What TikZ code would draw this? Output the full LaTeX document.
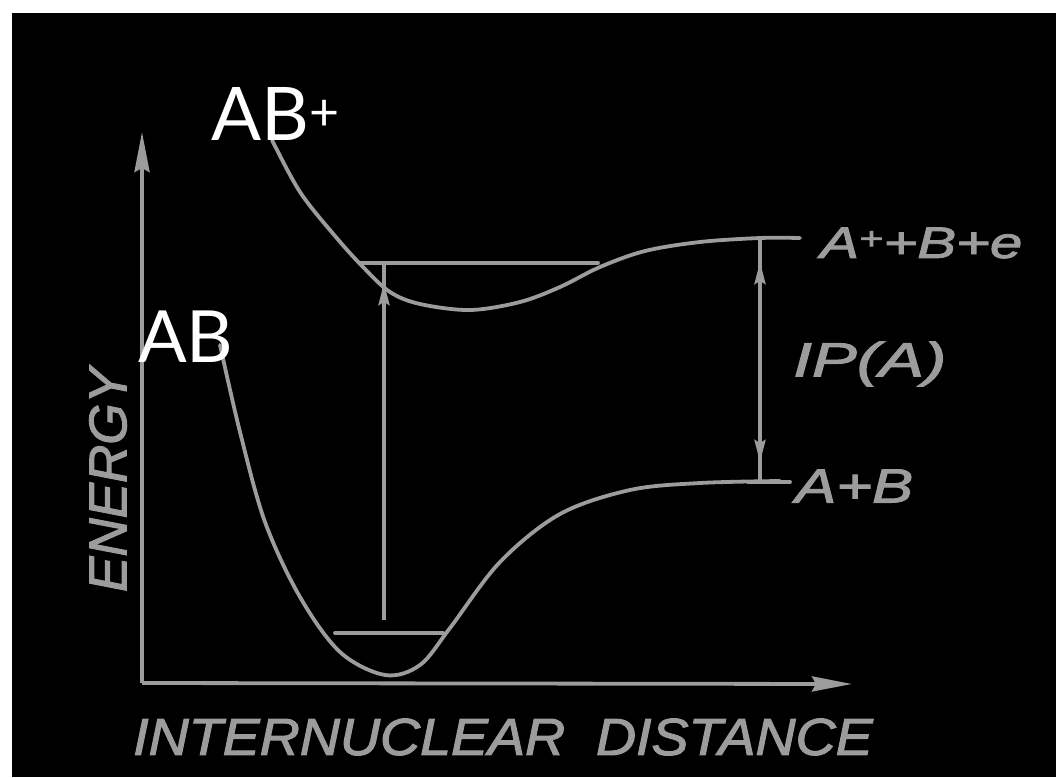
\documentclass[tikz,border=0pt]{standalone}
\usepackage{fontspec}
\setmainfont{Liberation Sans}
\newfontfamily\lett[FakeBold=2]{Liberation Sans}
\newfontfamily\labfont{Lato}
\usetikzlibrary{arrows.meta}
\definecolor{ln}{HTML}{9C9C9C}
\tikzset{
  curve/.style={draw=ln, line width=3.8pt, line cap=round},
  gtext/.style={text=ln, inner sep=0pt},
  wtext/.style={text=white, inner sep=0pt},
  bigtip/.style={-{Stealth[length=40pt,width=15pt,inset=4pt]}},
  midtip/.style={-{Stealth[length=22pt,width=11pt,inset=3pt]}},
}
\begin{document}
\begin{tikzpicture}[x=1pt,y=-1pt]
\useasboundingbox (0,0) rectangle (1056,777);
\fill[white] (0,0) rectangle (1056,777);
\fill[black] (12,13) rectangle (1056,777);
% axes
\coordinate (O) at (142,683);
\coordinate (ytop) at (142,132);
\coordinate (xend) at (852,684);
\draw[curve, line cap=butt, bigtip] (O) -- (ytop);
\draw[curve, line cap=butt, bigtip] (O) -- (xend);
% lower curve AB
\draw[curve] plot[smooth, tension=0.55] coordinates {(220,345) (240,432) (265,522) (300,597) (340,652) (385,675) (420,665) (450,628) (500,562) (560,514) (630,490) (700,483) (780,481)};
% upper curve AB+
\draw[curve] plot[smooth, tension=0.55] coordinates {(272,140) (300,192) (335,236) (363,267) (390,292) (420,304) (470,310) (520,302) (560,287) (600,267) (645,251) (700,242) (760,238) (800,238)};
% vibrational levels
\coordinate (l1) at (335,633);
\coordinate (l2) at (443,633);
\draw[curve] (l1) -- (l2);
\coordinate (u1) at (360,263);
\coordinate (u2) at (598,263);
\draw[curve] (u1) -- (u2);
% excitation arrow
\coordinate (eb) at (384,620);
\coordinate (et) at (384,263);
\coordinate (eh) at (384,283);
\draw[curve, line cap=butt] (eb) -- (et);
\draw[curve, line cap=butt, midtip] (eb) -- (eh);
% dissociation limits
\coordinate (r1) at (790,482);
\coordinate (r0) at (748,482);
\draw[curve] (r0) -- (r1);
% IP double arrow
\coordinate (ia) at (760,239);
\coordinate (ib) at (760,481);
\coordinate (iat) at (760,262);
\coordinate (ibt) at (760,462);
\coordinate (im) at (760,360);
\draw[curve, line cap=butt] (ia) -- (ib);
\draw[curve, line cap=butt, midtip] (im) -- (iat);
\draw[curve, line cap=butt, midtip] (im) -- (ibt);
% labels
\node[gtext, anchor=west, xscale=1.32, font=\lett\itshape\fontsize{44}{44}\selectfont] (lim1) at (820,243) {A\textsuperscript{+}+B+e};
\node[gtext, anchor=west, xscale=1.4, font=\lett\itshape\fontsize{48}{48}\selectfont] (ip) at (793,364) {IP(A)};
\node[gtext, anchor=west, xscale=1.28, font=\lett\itshape\fontsize{48}{48}\selectfont] (lim0) at (795,486) {A+B};
\node[gtext, anchor=west, xscale=1.068, font=\lett\itshape\fontsize{52}{52}\selectfont] (xl) at (133,737) {INTERNUCLEAR\ \ DISTANCE};
\node[gtext, rotate=90, font=\lett\itshape\fontsize{53}{53}\selectfont] (yl) at (108,480) {ENERGY};
\node[wtext, anchor=base west, font=\labfont\fontsize{74}{74}\selectfont] (abp) at (211,140) {AB\textsuperscript{+}};
\node[wtext, anchor=base west, font=\labfont\fontsize{72}{72}\selectfont] (ab) at (138,362) {AB};
\end{tikzpicture}
\end{document}
